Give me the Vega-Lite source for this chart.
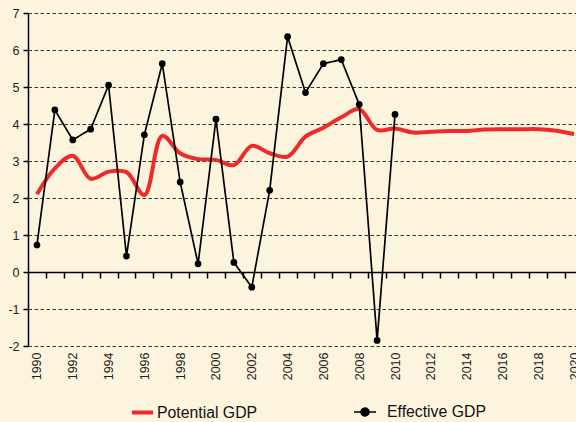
{
  "$schema": "https://vega.github.io/schema/vega-lite/v6.json",
  "width": 548,
  "height": 333,
  "autosize": {"type": "none"},
  "padding": {"left": 28, "top": 13, "right": 0, "bottom": 76},
  "background": "#FDF4DE",
  "config": {"view": {"stroke": null}, "font": "Liberation Sans"},
  "datasets": {
    "pot": [
      {"year": 1990, "value": 2.10}, {"year": 1991, "value": 2.80}, {"year": 1992, "value": 3.14},
      {"year": 1993, "value": 2.52}, {"year": 1994, "value": 2.71}, {"year": 1995, "value": 2.70},
      {"year": 1996, "value": 2.08}, {"year": 1997, "value": 3.68}, {"year": 1998, "value": 3.21},
      {"year": 1999, "value": 3.05}, {"year": 2000, "value": 3.03}, {"year": 2001, "value": 2.89},
      {"year": 2002, "value": 3.41}, {"year": 2003, "value": 3.21}, {"year": 2004, "value": 3.12},
      {"year": 2005, "value": 3.66}, {"year": 2006, "value": 3.90}, {"year": 2007, "value": 4.18},
      {"year": 2008, "value": 4.40}, {"year": 2009, "value": 3.84}, {"year": 2010, "value": 3.88},
      {"year": 2011, "value": 3.77}, {"year": 2012, "value": 3.79}, {"year": 2013, "value": 3.81},
      {"year": 2014, "value": 3.81}, {"year": 2015, "value": 3.85}, {"year": 2016, "value": 3.86},
      {"year": 2017, "value": 3.86}, {"year": 2018, "value": 3.86}, {"year": 2019, "value": 3.82},
      {"year": 2020, "value": 3.73}
    ],
    "eff": [
      {"year": 1990, "value": 0.73}, {"year": 1991, "value": 4.38}, {"year": 1992, "value": 3.57},
      {"year": 1993, "value": 3.86}, {"year": 1994, "value": 5.05}, {"year": 1995, "value": 0.43},
      {"year": 1996, "value": 3.71}, {"year": 1997, "value": 5.63}, {"year": 1998, "value": 2.43},
      {"year": 1999, "value": 0.22}, {"year": 2000, "value": 4.13}, {"year": 2001, "value": 0.26},
      {"year": 2002, "value": -0.41}, {"year": 2003, "value": 2.21}, {"year": 2004, "value": 6.36},
      {"year": 2005, "value": 4.85}, {"year": 2006, "value": 5.63}, {"year": 2007, "value": 5.74},
      {"year": 2008, "value": 4.53}, {"year": 2009, "value": -1.85}, {"year": 2010, "value": 4.26}
    ]
  },
  "layer": [
    {
      "data": {"name": "pot"},
      "mark": {"type": "line", "interpolate": "catmull-rom", "strokeWidth": 4, "strokeCap": "butt"},
      "encoding": {
        "x": {
          "field": "year", "type": "quantitative",
          "scale": {"domain": [1989.5, 2020.11], "nice": false, "zero": false},
          "axis": {
            "orient": "bottom", "title": null, "format": "d",
            "values": [1990, 1992, 1994, 1996, 1998, 2000, 2002, 2004, 2006, 2008, 2010, 2012, 2014, 2016, 2018, 2020],
            "labelAngle": -90, "labelFontSize": 12.5, "labelColor": "#222", "labelPadding": 6, "labelDy": 1.5,
            "ticks": false, "tickSize": 0, "domain": false, "grid": false, "labelOverlap": false, "labelFlush": false
          }
        },
        "y": {
          "field": "value", "type": "quantitative",
          "scale": {"domain": [-2, 7], "nice": false, "zero": false},
          "axis": {
            "title": null, "values": [-2, -1, 0, 1, 2, 3, 4, 5, 6, 7],
            "labelExpr": "datum.value < 0 ? '-' + abs(datum.value) : '' + datum.value",
            "labelFontSize": 12.5, "labelColor": "#222", "labelPadding": 4,
            "tickSize": 5, "tickColor": "#000", "tickWidth": 1.5,
            "domainColor": "#000", "domainWidth": 1.5,
            "grid": true, "gridDash": [3.5, 2.5], "gridColor": "#333", "gridWidth": 1
          }
        },
        "color": {
          "datum": "Potential GDP",
          "scale": {"range": ["#EE2B2B"]},
          "legend": {
            "orient": "none", "legendX": 102, "legendY": 387, "title": null, "padding": 0,
            "symbolType": "stroke", "symbolSize": 441, "symbolStrokeWidth": 4,
            "labelFontSize": 15.8, "labelColor": "#111", "labelOffset": 2
          }
        }
      }
    },
    {
      "data": {"name": "eff"},
      "mark": {"type": "line", "strokeWidth": 1.7, "color": "#000"},
      "encoding": {
        "x": {
          "field": "year", "type": "quantitative",
          "axis": {
            "orient": "bottom", "title": null, "offset": -74, "labels": false,
            "values": [1990.5, 1991.5, 1992.5, 1993.5, 1994.5, 1995.5, 1996.5, 1997.5, 1998.5, 1999.5, 2000.5, 2001.5, 2002.5, 2003.5, 2004.5, 2005.5, 2006.5, 2007.5, 2008.5, 2009.5, 2010.5, 2011.5, 2012.5, 2013.5, 2014.5, 2015.5, 2016.5, 2017.5, 2018.5, 2019.5],
            "ticks": true, "tickSize": 6, "tickColor": "#000", "tickWidth": 1.5,
            "domain": true, "domainColor": "#000", "domainWidth": 1.5, "grid": false
          }
        },
        "y": {"field": "value", "type": "quantitative", "axis": null},
        "strokeDash": {
          "datum": "Effective GDP",
          "scale": {"range": [[1, 0]]},
          "legend": {
            "orient": "none", "legendX": 325, "legendY": 387, "title": null, "padding": 0,
            "symbolType": "M-1,0L1,0M0.35,0A0.35,0.35,0,1,1,-0.35,0A0.35,0.35,0,1,1,0.35,0Z",
            "symbolSize": 484, "symbolStrokeWidth": 1.7, "symbolStrokeColor": "#000", "symbolFillColor": "#000",
            "labelFontSize": 15.8, "labelColor": "#111", "labelOffset": 10
          }
        }
      }
    },
    {
      "data": {"name": "eff"},
      "mark": {"type": "point", "filled": true, "size": 45, "color": "#000", "opacity": 1},
      "encoding": {
        "x": {"field": "year", "type": "quantitative", "axis": null},
        "y": {"field": "value", "type": "quantitative", "axis": null}
      }
    }
  ],
  "resolve": {"axis": {"x": "independent", "y": "independent"}}
}
